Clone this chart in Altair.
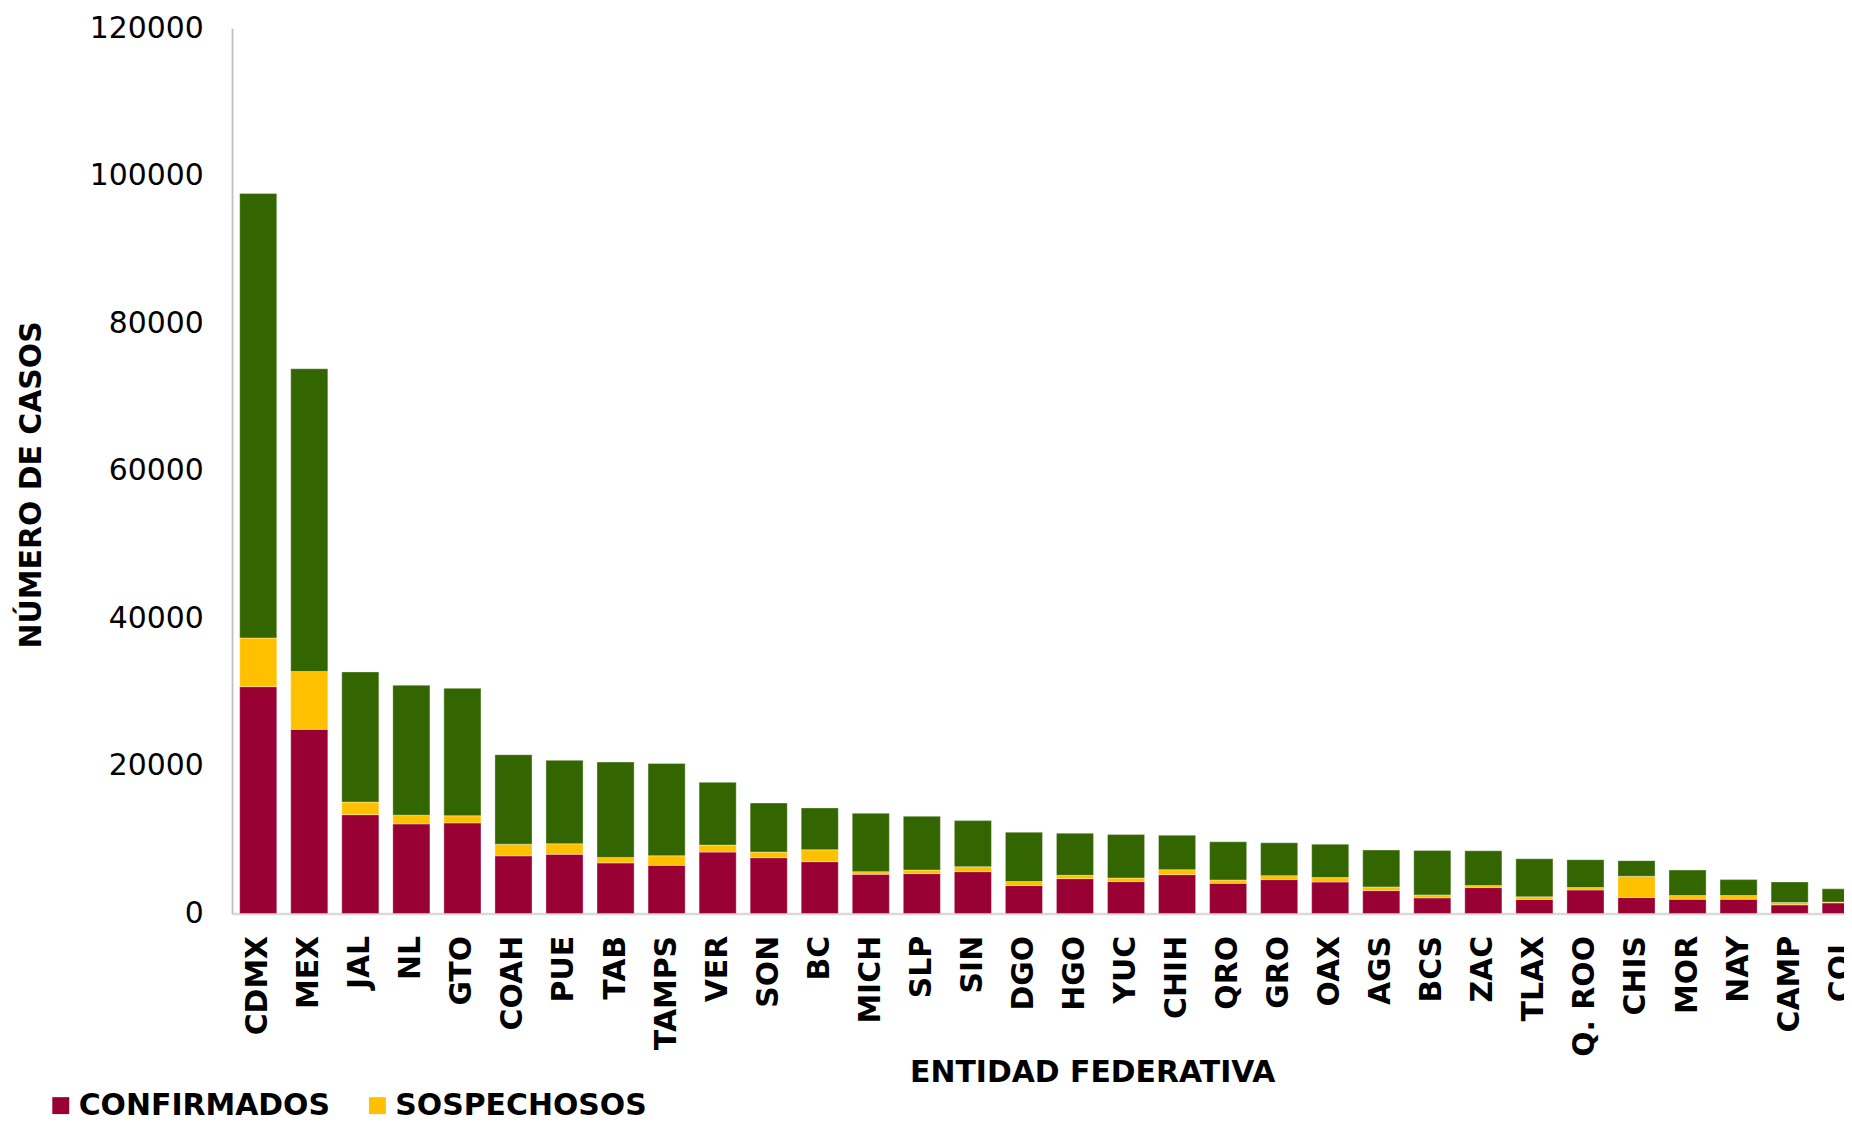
import altair as alt
import pandas as pd

estados = ["CDMX", "MEX", "JAL", "NL", "GTO", "COAH", "PUE", "TAB", "TAMPS", "VER",
           "SON", "BC", "MICH", "SLP", "SIN", "DGO", "HGO", "YUC", "CHIH", "QRO",
           "GRO", "OAX", "AGS", "BCS", "ZAC", "TLAX", "Q. ROO", "CHIS", "MOR", "NAY",
           "CAMP", "COL"]
confirmados = [30750, 24960, 13390, 12150, 12280, 7820, 8020, 6860, 6520, 8320,
               7560, 7020, 5310, 5400, 5670, 3780, 4720, 4320, 5260, 4090,
               4590, 4270, 3100, 2120, 3510, 1890, 3190, 2160, 1940, 1940,
               1170, 1440]
sospechosos = [6600, 7850, 1710, 1170, 970, 1570, 1440, 740, 1310, 950,
               760, 1620, 360, 490, 670, 540, 450, 490, 680, 450,
               540, 590, 500, 400, 270, 360, 320, 2880, 490, 490,
               320, 100]
negativos = [60270, 41040, 17650, 17630, 17280, 12130, 11300, 12930, 12510, 8510,
             6660, 5670, 7920, 7290, 6250, 6700, 5710, 5900, 4680, 5180,
             4450, 4540, 5000, 6030, 4720, 5170, 3780, 2120, 3460, 2160,
             2790, 1800]

series = ["CONFIRMADOS", "SOSPECHOSOS", "NEGATIVOS"]
colores = ["#990033", "#FFC000", "#336600"]

rows = []
for i, e in enumerate(estados):
    for k, (name, vals) in enumerate(zip(series, [confirmados, sospechosos, negativos])):
        rows.append({"estado": e, "serie": name, "valor": vals[i], "orden": k})
df = pd.DataFrame(rows)

chart = alt.Chart(df).mark_bar(
    stroke="white", strokeWidth=0.8, strokeOpacity=0.45
).encode(
    x=alt.X("estado:N", sort=estados,
            scale=alt.Scale(range=[0, 1642], paddingInner=0.273, paddingOuter=0.15),
            axis=alt.Axis(title="ENTIDAD FEDERATIVA", labelAngle=-90,
                          labelFont="DejaVu Sans", labelFontSize=30, labelFontWeight="bold",
                          labelColor="black", labelPadding=22, ticks=False, tickSize=0,
                          domainColor="#D9D9D9", domainWidth=2.5,
                          titleFont="DejaVu Sans", titleFontSize=30, titleFontWeight="bold",
                          titleColor="black", titleX=864, titleY=160,
                          titleAlign="center", titleBaseline="middle")),
    y=alt.Y("valor:Q", stack="zero",
            scale=alt.Scale(domain=[0, 120000], nice=False),
            axis=alt.Axis(title="NÚMERO DE CASOS", values=[0, 20000, 40000, 60000, 80000, 100000, 120000],
                          format="d", grid=False, ticks=False, tickSize=0,
                          labelFont="DejaVu Sans", labelFontSize=30, labelColor="black",
                          labelPadding=29, domainColor="#BFBFBF", domainWidth=1.8,
                          titleFont="DejaVu Sans", titleFontSize=30, titleFontWeight="bold",
                          titleColor="black", titleX=-201, titleY=458, titleAngle=270,
                          titleAlign="center", titleBaseline="middle")),
    color=alt.Color("serie:N",
                    scale=alt.Scale(domain=series, range=colores),
                    legend=alt.Legend(title=None, values=["CONFIRMADOS", "SOSPECHOSOS"],
                                      orient="none", direction="horizontal",
                                      legendX=-187, legendY=1067,
                                      symbolType="square", symbolSize=289,
                                      symbolStrokeWidth=0, symbolOpacity=1,
                                      labelFont="DejaVu Sans", labelFontSize=30,
                                      labelFontWeight="bold", labelColor="black",
                                      labelOffset=3, columnPadding=32, padding=0,
                                      labelLimit=400)),
    order=alt.Order("orden:Q", sort="ascending"),
).properties(
    width=1619, height=889,
    autosize=alt.AutoSizeParams(type="none"),
    padding={"left": 225, "top": 18, "right": 0, "bottom": 200},
    background="white",
).configure_view(stroke=None)

chart.save("out.html", embed_options={"renderer": "svg", "actions": False})
